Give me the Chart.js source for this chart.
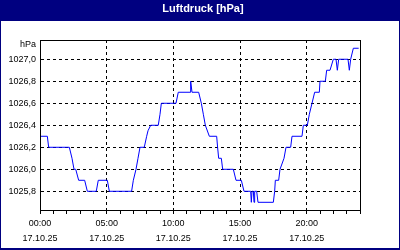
<!DOCTYPE html>
<html>
<head>
<meta charset="utf-8">
<script src="https://cdn.jsdelivr.net/npm/chart.js@4.4.1/dist/chart.umd.min.js"></script>
<style>
  html, body { margin: 0; padding: 0; background: #fff; }
  canvas { display: block; }
</style>
</head>
<body>
<canvas id="chart" width="400" height="250"></canvas>
<script>
// hours since 00:00 on 17.10.25
const hours = [
  0.0, 0.55, 0.65, 2.2, 2.4, 2.55, 2.68, 2.9, 3.35, 3.55, 4.22, 4.37, 5.05, 5.2,
  6.87, 7.0, 7.2, 7.35, 7.5, 7.82, 8.0, 8.1, 8.3, 8.87, 9.0, 9.1, 10.2, 10.37,
  11.25, 11.3, 11.4, 11.9, 12.1, 12.25, 12.4, 12.7, 13.25, 13.32, 13.4, 13.6, 13.7,
  14.5, 14.7, 15.1, 15.3, 15.8, 15.85, 15.9, 16.0, 16.05, 16.1, 16.25, 16.35,
  17.5, 17.6, 17.65, 17.9, 18.0, 18.3, 18.45, 18.8, 18.9, 19.65, 19.75, 20.05,
  20.2, 20.4, 20.6, 20.95, 21.0, 21.4, 21.5, 21.75, 22.0, 22.2, 22.3, 22.4,
  23.1, 23.2, 23.3, 23.5, 23.9
];
const pressure = [
  1026.3, 1026.3, 1026.2, 1026.2, 1026.1, 1026.0, 1026.0, 1025.9, 1025.9, 1025.8, 1025.8, 1025.9, 1025.9, 1025.8,
  1025.8, 1025.9, 1026.0, 1026.1, 1026.2, 1026.2, 1026.3, 1026.35, 1026.4, 1026.4, 1026.5, 1026.6, 1026.6, 1026.7,
  1026.7, 1026.8, 1026.7, 1026.7, 1026.6, 1026.5, 1026.4, 1026.3, 1026.3, 1026.2, 1026.1, 1026.1, 1026.0,
  1026.0, 1025.9, 1025.9, 1025.8, 1025.8, 1025.7, 1025.8, 1025.8, 1025.7, 1025.8, 1025.8, 1025.7,
  1025.7, 1025.8, 1025.9, 1025.9, 1026.0, 1026.1, 1026.2, 1026.2, 1026.3, 1026.3, 1026.4, 1026.4,
  1026.5, 1026.6, 1026.7, 1026.7, 1026.8, 1026.8, 1026.9, 1026.9, 1027.0, 1027.0, 1026.9, 1027.0,
  1027.0, 1026.9, 1027.0, 1027.1, 1027.1
];

const yTicks = [1025.8, 1026.0, 1026.2, 1026.4, 1026.6, 1026.8, 1027.0];
const xTickHours = [0, 1, 2, 3, 4, 5, 6, 7, 8, 9, 10, 11, 12, 13, 14, 15, 16, 17, 18, 19, 20, 21, 22, 23, 24];
const xLabelHours = [0, 5, 10, 15, 20];
const xTimeLabels = ['00:00', '05:00', '10:00', '15:00', '20:00'];
const dateLabel = '17.10.25';

const navy = '#000080';
const tickFont = { family: '"Liberation Sans", Arial, sans-serif', size: 9 };

// window frame, title bar and plot border
const framePlugin = {
  id: 'frame',
  afterLayout(chart) {
    // title is centred on the whole window, not on the plot
    const tb = chart.titleBlock;
    if (tb) { tb.left = 6; tb.right = 400; tb.width = 394; }
  },
  beforeDraw(chart) {
    const c = chart.ctx;
    c.save();
    c.fillStyle = navy;
    c.fillRect(0, 0, chart.width, chart.height);
    c.fillStyle = '#fff';
    c.fillRect(1, 21, chart.width - 2, chart.height - 23);
    c.restore();
  },
  afterDatasetsDraw(chart) {
    const c = chart.ctx;
    const a = chart.chartArea;
    c.save();
    c.strokeStyle = '#000';
    c.lineWidth = 1;
    c.strokeRect(a.left + 0.5, a.top + 0.5, a.right - a.left, a.bottom - a.top);
    c.fillStyle = '#000';
    c.font = '9px "Liberation Sans", Arial, sans-serif';
    c.textAlign = 'right';
    c.textBaseline = 'middle';
    c.fillText('hPa', a.left - 4, a.top + 5);
    c.restore();
  }
};

new Chart(document.getElementById('chart').getContext('2d'), {
  type: 'line',
  data: {
    datasets: [{
      data: hours.map((h, i) => ({ x: h, y: pressure[i] })),
      borderColor: '#0000ff',
      borderWidth: 1,
      pointRadius: 0,
      tension: 0,
      fill: false
    }]
  },
  options: {
    responsive: false,
    animation: false,
    devicePixelRatio: 1,
    layout: { padding: { left: 0, right: 40, top: 0, bottom: 0 } },
    plugins: {
      legend: { display: false },
      tooltip: { enabled: false },
      title: {
        display: true,
        text: 'Luftdruck [hPa]',
        color: '#fff',
        font: { family: '"Liberation Sans", Arial, sans-serif', size: 11, weight: 'bold', lineHeight: 1.2 },
        padding: { top: 2, bottom: 24.8 }
      }
    },
    scales: {
      x: {
        type: 'linear',
        min: 0,
        max: 24,
        afterBuildTicks: s => { s.ticks = xTickHours.map(v => ({ value: v })); },
        afterFit: s => { s.height = 40; },
        grid: {
          color: ctx => (xLabelHours.includes(ctx.tick.value) ? '#000' : 'rgba(0,0,0,0)'),
          tickColor: '#000',
          tickLength: 4,
          lineWidth: 1
        },
        border: { color: '#000', dash: [3, 3] },
        ticks: {
          autoSkip: false,
          maxRotation: 0,
          padding: 2,
          color: '#000',
          font: Object.assign({ lineHeight: '15px' }, tickFont),
          callback: v => {
            const k = xLabelHours.indexOf(v);
            return k >= 0 ? [xTimeLabels[k], dateLabel] : '';
          }
        }
      },
      y: {
        min: 1025.63,
        max: 1027.175,
        afterBuildTicks: s => { s.ticks = yTicks.map(v => ({ value: v })); },
        afterFit: s => { s.width = 40; },
        grid: { color: '#000', drawTicks: false, lineWidth: 1 },
        border: { color: '#000', dash: [3, 3] },
        ticks: {
          padding: 4,
          color: '#000',
          font: tickFont,
          callback: v => v.toFixed(1).replace('.', ',')
        }
      }
    }
  },
  plugins: [framePlugin]
});
</script>
</body>
</html>
